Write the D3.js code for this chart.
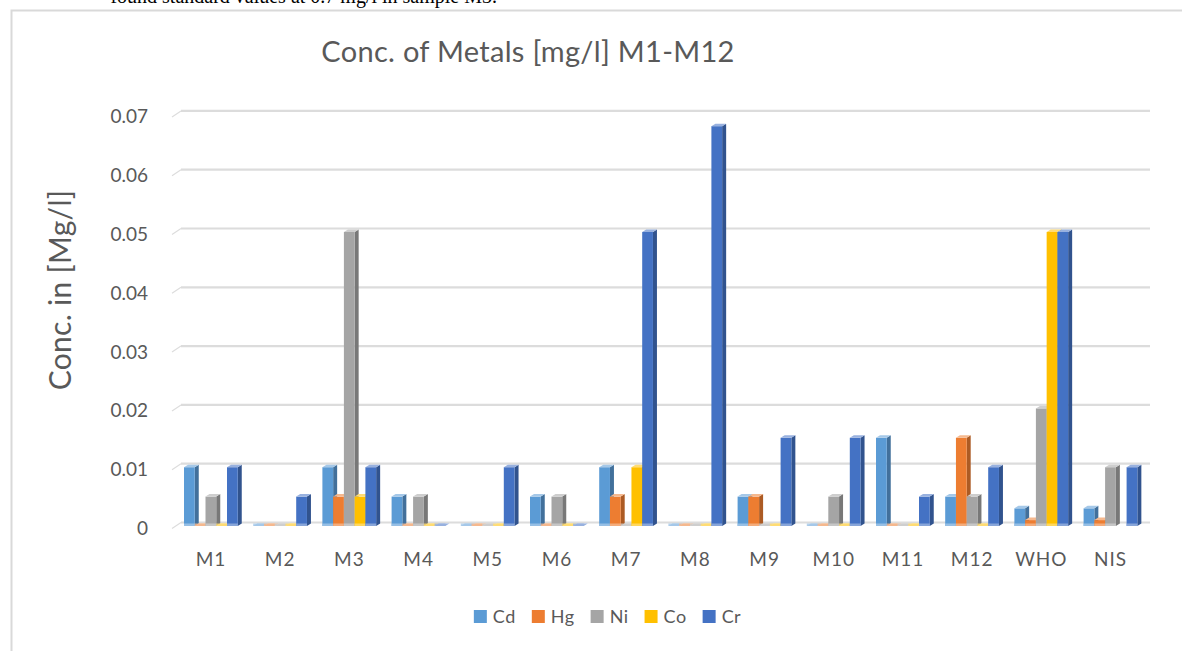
<!DOCTYPE html>
<meta charset="utf-8">
<script src="https://d3js.org/d3.v7.min.js"></script>
<style>
  body { margin: 0; background: #fff; }
  svg text { font-family: Lato, "Open Sans", sans-serif; fill: #595959; }
</style>
<body>
<div id="viz"></div>
<script>
// data
const categories = ["M1", "M2", "M3", "M4", "M5", "M6", "M7", "M8", "M9", "M10", "M11", "M12", "WHO", "NIS"];
const metals = ["Cd", "Hg", "Ni", "Co", "Cr"];
const cd = [0.01, 0, 0.01, 0.005, 0, 0.005, 0.01, 0, 0.005, 0, 0.015, 0.005, 0.003, 0.003];
const hg = [0, 0, 0.005, 0, 0, 0, 0.005, 0, 0.005, 0, 0, 0.015, 0.001, 0.001];
const ni = [0.005, 0, 0.05, 0.005, 0, 0.005, 0, 0, 0, 0.005, 0, 0.005, 0.02, 0.01];
const co = [0, 0, 0.005, 0, 0, 0, 0.01, 0, 0, 0, 0, 0, 0.05, null];
const cr = [0.01, 0.005, 0.01, 0, 0.01, 0, 0.05, 0.068, 0.015, 0.015, 0.005, 0.01, 0.05, 0.01];
const yTicks = [0, 0.01, 0.02, 0.03, 0.04, 0.05, 0.06, 0.07];
const colors = ["#5B9BD5", "#ED7D31", "#A5A5A5", "#FFC000", "#4472C4"];

const seriesValues = [cd, hg, ni, co, cr];

const W = 1182, H = 651;
const svg = d3.select("#viz").append("svg")
    .attr("width", W).attr("height", H);

// line of page text above the chart, cut off by the top edge as in the picture
svg.append("text")
    .attr("x", 497).attr("y", 3)
    .attr("text-anchor", "end")
    .style("font-family", "'Liberation Serif', serif")
    .style("font-size", "20px")
    .style("fill", "#000")
    .text("found standard values at 0.7 mg/l in sample M3.");

// chart border
svg.append("path")
    .attr("d", `M11.5,${H} V10.5 H${W}`)
    .attr("fill", "none")
    .attr("stroke", "#d9d9d9")
    .attr("stroke-width", 2);

// scales
const x = d3.scaleBand().domain(categories).range([177.4, 1146.2]);
const x1 = d3.scaleBand().domain(metals).range([0, 53.75]);
const y = d3.scaleLinear().domain([0, 0.07]).range([526, 114.4]);
const color = d3.scaleOrdinal().domain(metals).range(colors);

const gridL = 181, gridR = 1150;

// gridlines with small 3D wall stub
const grid = svg.append("g");
yTicks.forEach(v => {
  const gy = y(v) - 3.5;
  grid.append("line")
      .attr("x1", gridL).attr("x2", gridR)
      .attr("y1", gy).attr("y2", gy)
      .attr("stroke", "#dcdcdc").attr("stroke-width", 2.2);
  grid.append("line")
      .attr("x1", 172).attr("x2", gridL)
      .attr("y1", gy + 6).attr("y2", gy)
      .attr("stroke", "#dcdcdc").attr("stroke-width", 1.2);
});

// y tick labels
svg.append("g").selectAll("text")
  .data(yTicks)
  .join("text")
    .attr("x", 148)
    .attr("y", d => y(d) + 9)
    .attr("text-anchor", "end")
    .style("font-size", "19px")
    .text(d => d === 0 ? "0" : d3.format(".2f")(d));

// x labels
svg.append("g").selectAll("text")
  .data(categories)
  .join("text")
    .attr("x", d => x(d) + x.bandwidth() / 2 - 1)
    .attr("y", 566)
    .attr("text-anchor", "middle")
    .style("font-size", "19px")
    .style("letter-spacing", "1px")
    .text(d => d);

// bars as pseudo-3D columns
const dx = 4, dy = 2.5, bw = 10.75;
const offset = (x.bandwidth() - 56) / 2;
const bars = [];
categories.forEach((c, i) => {
  metals.forEach((m, j) => {
    const v = seriesValues[j][i];
    if (v === null) return;
    bars.push({cat: c, key: m, value: v});
  });
});

const barG = svg.append("g");
bars.forEach(d => {
  const x0 = x(d.cat) + offset + x1(d.key);
  const xe = x0 + bw;
  const top = y(d.value);
  const base = y(0);
  const col = color(d.key);
  const side = d3.color(col).darker(0.9).formatHex();
  const lite = d3.interpolateRgb(col, "#ffffff")(0.45);
  const g = barG.append("g");
  // right side face
  g.append("path")
      .attr("d", `M${xe},${top} L${xe + dx},${top - dy} L${xe + dx},${base - dy} L${xe},${base} Z`)
      .attr("fill", side);
  // front face
  g.append("rect")
      .attr("x", x0).attr("y", top)
      .attr("width", bw).attr("height", base - top)
      .attr("fill", col);
  // top face
  g.append("path")
      .attr("d", `M${x0},${top} L${x0 + dx},${top - dy} L${xe + dx},${top - dy} L${xe},${top} Z`)
      .attr("fill", lite);
  // lighter floor strip
  g.append("rect")
      .attr("x", x0).attr("y", base - 2.5)
      .attr("width", bw).attr("height", 2.5)
      .attr("fill", lite).attr("opacity", 0.8);
});

// title
svg.append("text")
    .attr("x", 528).attr("y", 62)
    .attr("text-anchor", "middle")
    .style("font-size", "29px")
    .style("letter-spacing", "0.3px")
    .text("Conc. of Metals [mg/l] M1-M12");

// y axis title
svg.append("text")
    .attr("transform", "translate(71,290) rotate(-90)")
    .attr("text-anchor", "middle")
    .style("font-size", "30px")
    .style("letter-spacing", "0.3px")
    .text("Conc. in [Mg/l]");

// legend
const legend = svg.append("g");
let lx = 0;
metals.forEach(m => {
  const g = legend.append("g");
  g.append("rect")
      .attr("x", 0).attr("y", -13)
      .attr("width", 13).attr("height", 13)
      .attr("fill", color(m));
  const t = g.append("text")
      .attr("x", 19).attr("y", 0)
      .style("font-size", "18px")
      .style("letter-spacing", "0.5px")
      .text(m);
  const w = 19 + t.node().getComputedTextLength();
  g.attr("transform", `translate(${lx},623)`);
  lx += w + 16;
});
const totalW = lx - 16;
legend.attr("transform", `translate(${607.5 - totalW / 2},0)`);
</script>
</body>
